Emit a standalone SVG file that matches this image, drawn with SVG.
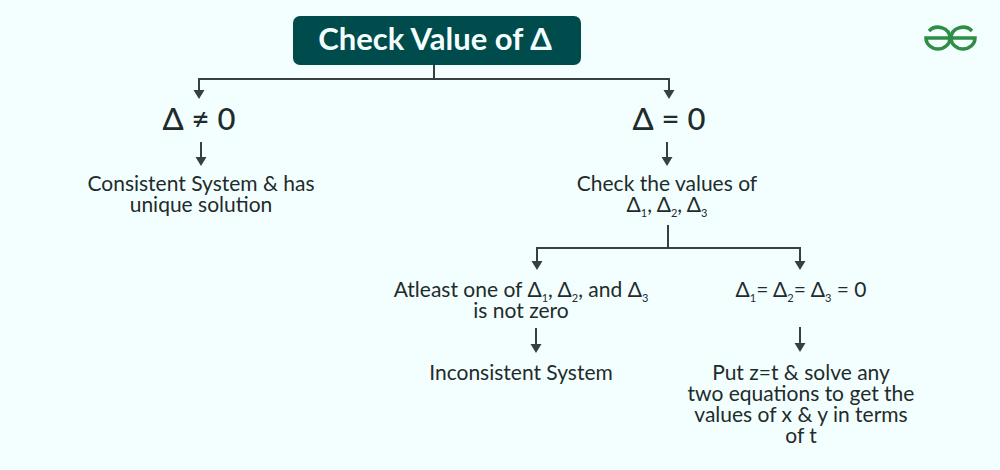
<svg xmlns="http://www.w3.org/2000/svg" width="1000" height="470" viewBox="0 0 1000 470">
<style>
text{font-family:"Lato","Noto Sans",sans-serif;fill:#222b2b;text-anchor:middle}
.b{font-size:21px}
.h{font-size:31px;font-weight:500}
.s{font-size:11px}
.c{fill:none;stroke:#37403f;stroke-width:2}
.t{fill:#37403f}
</style>
<rect width="1000" height="470" fill="#f3ffff"/>
<g id="connectors">
<path class="c" d="M434 65V79"/>
<path class="c" d="M199 91V79H669V91"/>
<path class="t" d="M193.500 90H204.500L199 99ZM663.500 90H674.500L669 99Z"/>
<path class="c" d="M201 142V160"/><path class="t" d="M195.500 157H206.500L201 166Z"/>
<path class="c" d="M667 142V160"/><path class="t" d="M661.500 157H672.500L667 166Z"/>
<path class="c" d="M668 225V248"/>
<path class="c" d="M537 262V248H800V262"/>
<path class="t" d="M531.500 261H542.500L537 270ZM794.500 261H805.500L800 270Z"/>
<path class="c" d="M536 328V346"/><path class="t" d="M530.500 344H541.500L536 353Z"/>
<path class="c" d="M800 327V345"/><path class="t" d="M794.500 343H805.500L800 352Z"/>
</g>
<g id="n-root"><rect x="293" y="16" width="288" height="49" rx="7" fill="#004b4b"/><text x="435" y="50" style="fill:#f3ffff;font-size:31px;font-weight:700">Check Value of Δ</text></g>
<g id="n-ne"><text class="h" x="199" y="130">Δ ≠ 0</text></g>
<g id="n-eq"><text class="h" x="669" y="130">Δ = 0</text></g>
<g id="n-unique"><text class="b" x="201" y="191">Consistent System &amp; has<tspan x="201" dy="21">unique solution</tspan></text></g>
<g id="n-check"><text class="b" x="667" y="191">Check the values of<tspan x="667" dy="21">Δ</tspan><tspan class="s" dy="5">1</tspan><tspan dy="-5">, Δ</tspan><tspan class="s" dy="5">2</tspan><tspan dy="-5">, Δ</tspan><tspan class="s" dy="5">3</tspan></text></g>
<g id="n-atleast"><text class="b" x="521" y="297">Atleast one of Δ<tspan class="s" dy="5">1</tspan><tspan dy="-5">, Δ</tspan><tspan class="s" dy="5">2</tspan><tspan dy="-5">, and Δ</tspan><tspan class="s" dy="5">3</tspan><tspan x="521" dy="16">is not zero</tspan></text></g>
<g id="n-all"><text class="b" x="801" y="297">Δ<tspan class="s" dy="5">1</tspan><tspan dy="-5">= Δ</tspan><tspan class="s" dy="5">2</tspan><tspan dy="-5">= Δ</tspan><tspan class="s" dy="5">3</tspan><tspan dy="-5"> = 0</tspan></text></g>
<g id="n-incons"><text class="b" x="521" y="380">Inconsistent System</text></g>
<g id="n-put"><text class="b" x="801" y="380">Put z=t &amp; solve any<tspan x="801" dy="21">two equations to get the</tspan><tspan x="801" dy="21">values of x &amp; y in terms</tspan><tspan x="801" dy="21">of t</tspan></text></g>
<g id="logo" fill="none" stroke="#2f8d46" stroke-width="3.500"><path d="M929 31A12 11 0 0 1 950 38A12 11 0 0 1 926 38H950"/><path d="M972 31A12 11 0 0 0 951 38A12 11 0 0 0 975 38H951"/></g>
</svg>
